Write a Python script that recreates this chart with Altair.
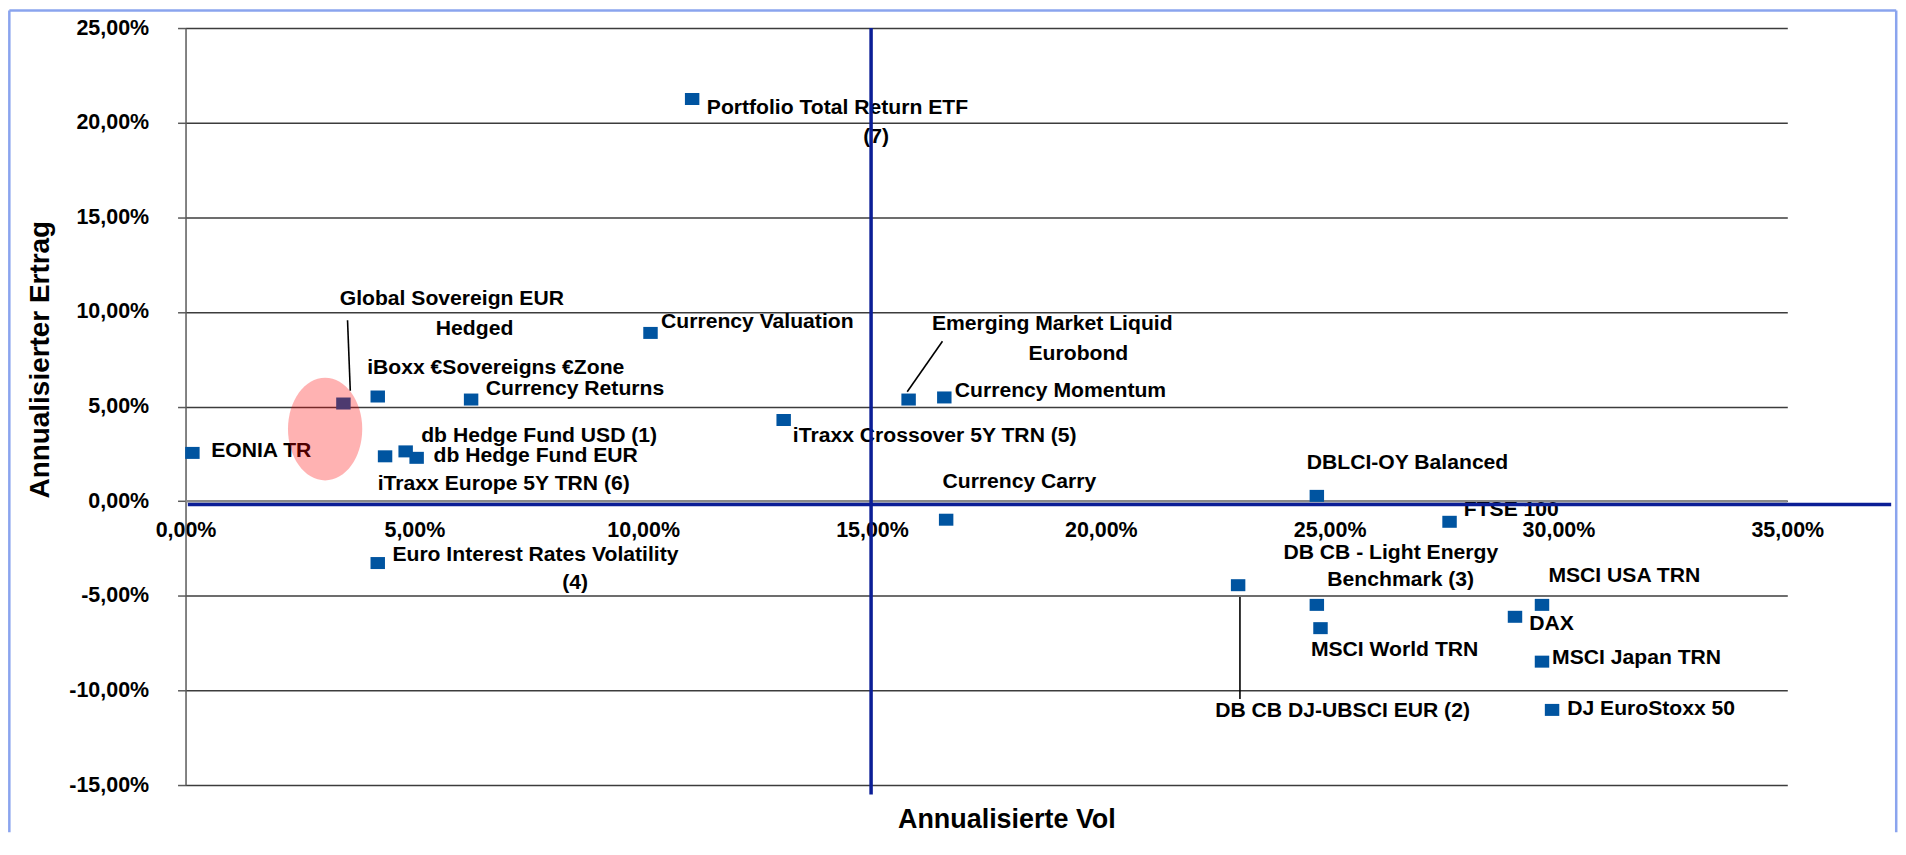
import altair as alt
import pandas as pd

# ---------------- data ----------------
names = [
    "EONIA TR", "Global Sovereign EUR Hedged", "iBoxx €Sovereigns €Zone",
    "iTraxx Europe 5Y TRN (6)", "db Hedge Fund USD (1)", "db Hedge Fund EUR",
    "Currency Returns", "Euro Interest Rates Volatility (4)", "Currency Valuation",
    "Portfolio Total Return ETF (7)", "iTraxx Crossover 5Y TRN (5)",
    "Emerging Market Liquid Eurobond", "Currency Momentum", "Currency Carry",
    "DB CB DJ-UBSCI EUR (2)", "DBLCI-OY Balanced", "DB CB - Light Energy Benchmark (3)",
    "MSCI World TRN", "FTSE 100", "DAX", "MSCI USA TRN", "MSCI Japan TRN",
    "DJ EuroStoxx 50",
]
vol = [0.15, 3.45, 4.20, 4.36, 4.81, 5.05, 6.24, 4.20, 10.16, 11.07, 13.07,
       15.80, 16.58, 16.62, 23.00, 24.72, 24.72, 24.80, 27.62, 29.05, 29.64,
       29.64, 29.86]
ret = [2.55, 5.16, 5.53, 2.37, 2.63, 2.29, 5.37, -3.27, 8.89, 21.25, 4.29,
       5.37, 5.48, -0.98, -4.44, 0.28, -5.48, -6.71, -1.09, -6.11, -5.48,
       -8.48, -11.03]

label_text = [
    "Global Sovereign EUR", "Hedged", "iBoxx €Sovereigns €Zone", "Currency Returns",
    "EONIA TR", "db Hedge Fund USD (1)", "db Hedge Fund EUR", "iTraxx Europe 5Y TRN (6)",
    "Euro Interest Rates Volatility", "(4)", "Portfolio Total Return ETF", "(7)",
    "Currency Valuation", "Emerging Market Liquid", "Eurobond", "Currency Momentum",
    "iTraxx Crossover 5Y TRN (5)", "Currency Carry", "DBLCI-OY Balanced", "FTSE 100",
    "DB CB - Light Energy", "Benchmark (3)", "MSCI USA TRN", "DAX", "MSCI World TRN",
    "MSCI Japan TRN", "DB CB DJ-UBSCI EUR (2)", "DJ EuroStoxx 50",
]
label_x = [3.37, 5.47, 3.97, 6.56, 0.56, 5.15, 5.42, 4.20, 4.52, 8.23, 11.39, 14.81,
           10.39, 16.31, 18.42, 16.81, 13.27, 16.54, 24.50, 27.93, 23.99, 24.95,
           29.78, 29.36, 24.59, 29.86, 22.50, 30.19]
label_y = [10.66, 9.11, 7.03, 5.92, 2.67, 3.46, 2.37, 0.92, -2.84, -4.35, 20.80, 19.22,
           9.47, 9.35, 7.77, 5.83, 3.46, 1.00, 2.00, -0.49, -2.72, -4.18,
           -3.95, -6.51, -7.87, -8.30, -11.08, -10.99]

leader_x = [3.54, 16.54, 23.04]
leader_y = [9.56, 8.45, -5.06]
leader_x2 = [3.60, 15.77, 23.04]
leader_y2 = [5.83, 5.78, -10.46]

x_ticks = [0, 5, 10, 15, 20, 25, 30, 35]
y_ticks = [-15, -10, -5, 0, 5, 10, 15, 20, 25]

# quadrant cross lines
h_line = {"x": [0.05], "x2": [37.27], "y": [-0.17]}
v_line = {"x": [14.98], "y": [25.0], "y2": [-15.5]}
# highlighted area
highlight = {"x": [3.05], "y": [3.81]}
# outer frame (left, top, right edges)
frame = {"x": [-3.85, -3.85, 37.38], "x2": [-3.85, 37.38, 37.38],
         "y": [25.93, 25.93, 25.93], "y2": [-17.5, 25.93, -17.5]}

# ---------------- styles ----------------
FONT = "Liberation Sans"
BLUE = "#0054A0"
LINE_BLUE = "#0B1E96"
XS = alt.Scale(domain=[0, 35], nice=False, zero=False)
YS = alt.Scale(domain=[-15, 25], nice=False, zero=False)
FMT = "(datum.value < 0 ? '-' : '') + replace(format(abs(datum.value), '.2f'), '.', ',') + '%'"

df_pts = pd.DataFrame({"name": names, "vol": vol, "ret": ret})
df_lab = pd.DataFrame({"text": label_text, "x": label_x, "y": label_y})
df_lead = pd.DataFrame({"x": leader_x, "y": leader_y, "x2": leader_x2, "y2": leader_y2})
df_h = pd.DataFrame(h_line)
df_v = pd.DataFrame(v_line)
df_hl = pd.DataFrame(highlight)
df_frame = pd.DataFrame(frame)
df_zero = pd.DataFrame({"x": [0], "x2": [35], "y": [0]})

x_axis = alt.Axis(
    title="Annualisierte Vol", values=x_ticks, labelExpr=FMT, grid=False,
    domain=False, ticks=False, tickSize=0, labelPadding=-266, labelFlush=False,
    labelOverlap=False, labelFont=FONT, labelFontSize=21.5, labelFontWeight="bold",
    labelColor="black", labelAlign="center", labelBaseline="top",
    titleFont=FONT, titleFontSize=27, titleFontWeight="bold", titleColor="black",
    titleX=823, titleY=35, titleAlign="center", titleBaseline="middle",
)
y_axis = alt.Axis(
    title="Annualisierter Ertrag", values=y_ticks, labelExpr=FMT, grid=True,
    gridColor="#3c3c3c", gridWidth=1.5, domain=True, domainColor="#5a5a5a",
    domainWidth=1.5, ticks=True, tickSize=8, tickColor="#5a5a5a", tickWidth=1.5,
    labelPadding=29, labelFlush=False, labelOverlap=False, labelFont=FONT,
    labelFontSize=21.5, labelFontWeight="bold", labelColor="black",
    titleFont=FONT, titleFontSize=28, titleFontWeight="bold", titleColor="black",
    titleX=-145, titleY=332, titleAngle=270, titleAlign="center", titleBaseline="middle",
)


def X(f):
    return alt.X(f, type="quantitative", scale=XS, axis=x_axis)


def Y(f):
    return alt.Y(f, type="quantitative", scale=YS, axis=y_axis)


frame_layer = alt.Chart(df_frame).mark_rule(color="#8AA4EE", strokeWidth=2.5).encode(
    x=X("x"), x2="x2", y=Y("y"), y2="y2")

zero_layer = alt.Chart(df_zero).mark_rule(color="#8a8a8a", strokeWidth=2.5).encode(
    x=X("x"), x2="x2", y=Y("y"))

leader_layer = alt.Chart(df_lead).mark_rule(color="black", strokeWidth=1.6).encode(
    x=X("x"), x2="x2", y=Y("y"), y2="y2")

text_layer = alt.Chart(df_lab).mark_text(
    align="left", baseline="middle", font=FONT, fontSize=21.2, fontWeight="bold",
    color="black").encode(x=X("x"), y=Y("y"), text="text:N")

square_path = "M-1,-0.83L1,-0.83L1,0.83L-1,0.83Z"
point_layer = alt.Chart(df_pts).mark_point(
    shape=square_path, filled=True, size=210, color=BLUE, opacity=1, strokeWidth=0
).encode(x=X("vol"), y=Y("ret"), tooltip=["name:N"])

h_layer = alt.Chart(df_h).mark_rule(color=LINE_BLUE, strokeWidth=3.5).encode(
    x=X("x"), x2="x2", y=Y("y"))
v_layer = alt.Chart(df_v).mark_rule(color=LINE_BLUE, strokeWidth=3.5).encode(
    x=X("x"), y=Y("y"), y2="y2")

ellipse_path = ("M0,-1 C0.3993,-1 0.723,-0.5523 0.723,0 C0.723,0.5523 0.3993,1 0,1 "
                "C-0.3993,1 -0.723,0.5523 -0.723,0 C-0.723,-0.5523 -0.3993,-1 0,-1 Z")
hl_layer = alt.Chart(df_hl).mark_point(
    shape=ellipse_path, filled=True, size=10609, color="#FF0000", opacity=0.3,
    strokeWidth=0).encode(x=X("x"), y=Y("y"))

chart = alt.layer(
    frame_layer, zero_layer, leader_layer, text_layer, point_layer,
    h_layer, v_layer, hl_layer,
).properties(width=1606, height=759, padding=0, background="white").configure_view(
    stroke=None)

chart.save("out.html", embed_options={"renderer": "svg", "actions": False})
